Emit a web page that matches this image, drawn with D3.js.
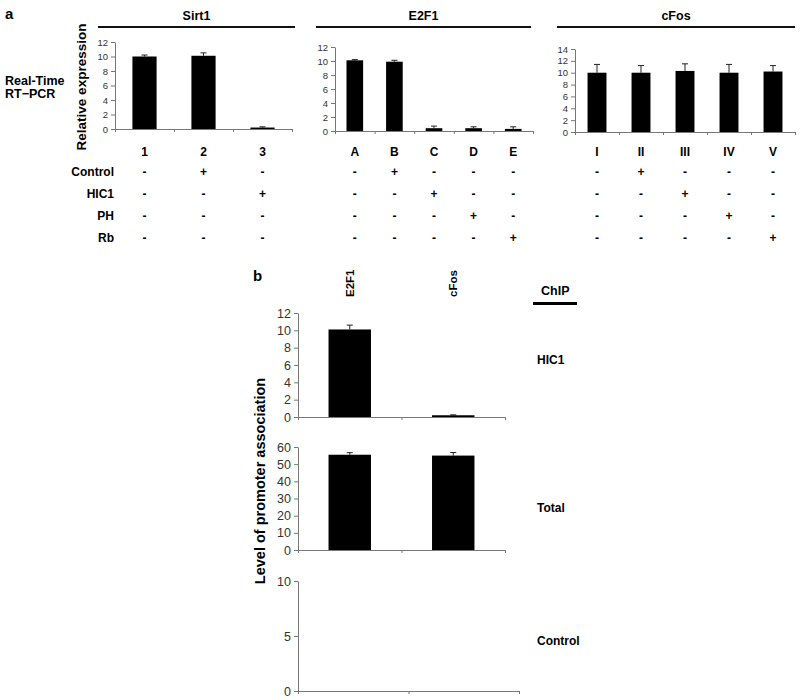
<!DOCTYPE html>
<html>
<head>
<meta charset="utf-8">
<script src="https://cdn.jsdelivr.net/npm/d3@7"></script>
<style>
  body { margin: 0; background: #fff; }
  svg { font-family: "Liberation Sans", Arial, sans-serif; }
  .tick text { fill: #333; }
  .domain, .tick line { stroke: #777; }
</style>
</head>
<body>
<svg id="chart" width="800" height="700"></svg>
<script>
// panel a: real-time RT-PCR
const sirt1Labels = ["1", "2", "3"];
const sirt1Values = [10.0, 10.1, 0.2];
const sirt1Errors = [0.2, 0.4, 0.1];
const sirt1Ticks = [0, 2, 4, 6, 8, 10, 12];

const e2f1Labels = ["A", "B", "C", "D", "E"];
const e2f1Values = [10.1, 9.9, 0.4, 0.4, 0.3];
const e2f1Errors = [0.1, 0.2, 0.3, 0.2, 0.3];
const e2f1Ticks = [0, 2, 4, 6, 8, 10, 12];

const cfosLabels = ["I", "II", "III", "IV", "V"];
const cfosValues = [10.0, 10.0, 10.3, 10.0, 10.2];
const cfosErrors = [1.4, 1.2, 1.2, 1.4, 1.0];
const cfosTicks = [0, 2, 4, 6, 8, 10, 12, 14];

const treatmentRows = ["Control", "HIC1", "PH", "Rb"];
const sirt1Signs = [["-", "+", "-"], ["-", "-", "+"], ["-", "-", "-"], ["-", "-", "-"]];
const e2f1Signs = [
  ["-", "+", "-", "-", "-"],
  ["-", "-", "+", "-", "-"],
  ["-", "-", "-", "+", "-"],
  ["-", "-", "-", "-", "+"],
];
const cfosSigns = [
  ["-", "+", "-", "-", "-"],
  ["-", "-", "+", "-", "-"],
  ["-", "-", "-", "+", "-"],
  ["-", "-", "-", "-", "+"],
];

// panel b: ChIP
const chipTargets = ["E2F1", "cFos"];
const chipHic1Values = [10.1, 0.2];
const chipHic1Errors = [0.5, 0.05];
const chipHic1Ticks = [0, 2, 4, 6, 8, 10, 12];
const chipTotalValues = [55.5, 55.0];
const chipTotalErrors = [1.2, 1.8];
const chipTotalTicks = [0, 10, 20, 30, 40, 50, 60];
const chipControlValues = [];
const chipControlErrors = [];
const chipControlTicks = [0, 5, 10];

const svg = d3.select("#chart");

// draws one small bar chart, returns the band scale
function barChart(opts) {
  const g = svg.append("g");
  const x = d3.scaleBand().domain(opts.labels).range([opts.x0, opts.x1]);
  const yMax = opts.ticks[opts.ticks.length - 1];
  const y = d3.scaleLinear().domain([0, yMax]).range([opts.y0, opts.yTop]);
  const xi = d3.scaleLinear().domain([0, opts.labels.length]).range([opts.x0, opts.x1]);

  g.append("g")
    .attr("transform", `translate(${opts.x0},0)`)
    .call(d3.axisLeft(y).tickValues(opts.ticks).tickSize(4).tickSizeOuter(0).tickPadding(3))
    .call((a) => a.selectAll("text").attr("font-size", opts.tickFont).attr("font-family", "Liberation Sans, Arial"));

  g.append("g")
    .attr("transform", `translate(0,${opts.y0})`)
    .call(d3.axisBottom(xi).tickValues(d3.range(opts.labels.length + 1)).tickFormat("").tickSize(3).tickSizeOuter(0));

  const bw = x.bandwidth() * opts.barRatio;
  const data = opts.values.map((v, i) => ({ label: opts.labels[i], v, e: opts.errors[i] }));

  g.selectAll("line.err")
    .data(data)
    .join("line")
    .attr("class", "err")
    .attr("x1", (d) => x(d.label) + x.bandwidth() / 2)
    .attr("x2", (d) => x(d.label) + x.bandwidth() / 2)
    .attr("y1", (d) => y(d.v))
    .attr("y2", (d) => y(d.v + d.e))
    .attr("stroke", "#222")
    .attr("stroke-width", 1);
  g.selectAll("line.cap")
    .data(data)
    .join("line")
    .attr("class", "cap")
    .attr("x1", (d) => x(d.label) + x.bandwidth() / 2 - 3)
    .attr("x2", (d) => x(d.label) + x.bandwidth() / 2 + 3)
    .attr("y1", (d) => y(d.v + d.e))
    .attr("y2", (d) => y(d.v + d.e))
    .attr("stroke", "#222")
    .attr("stroke-width", 1);

  g.selectAll("rect")
    .data(data)
    .join("rect")
    .attr("x", (d) => x(d.label) + (x.bandwidth() - bw) / 2)
    .attr("width", bw)
    .attr("y", (d) => y(d.v))
    .attr("height", (d) => opts.y0 - y(d.v))
    .attr("fill", "#000");
  return x;
}

function titled(text, xa, xb) {
  svg.append("text")
    .attr("x", (xa + xb) / 2).attr("y", 20)
    .attr("text-anchor", "middle")
    .attr("font-size", 12.5).attr("font-weight", "bold")
    .text(text);
  svg.append("line")
    .attr("x1", xa).attr("x2", xb).attr("y1", 27).attr("y2", 27)
    .attr("stroke", "#111").attr("stroke-width", 2);
}

function signTable(x, labels, signs) {
  const rowY = [152, 172, 194, 216, 238];
  svg.append("g").selectAll("text")
    .data(labels)
    .join("text")
    .attr("x", (d) => x(d) + x.bandwidth() / 2)
    .attr("y", rowY[0] + 4)
    .attr("text-anchor", "middle")
    .attr("font-size", 12).attr("font-weight", "bold")
    .text((d) => d);
  signs.forEach((row, r) => {
    svg.append("g").selectAll("text")
      .data(row)
      .join("text")
      .attr("x", (d, i) => x(labels[i]) + x.bandwidth() / 2)
      .attr("y", rowY[r + 1] + 4)
      .attr("text-anchor", "middle")
      .attr("font-size", 12).attr("font-weight", "bold")
      .text((d) => d);
  });
}

// ---- panel a ----
svg.append("text").attr("x", 5).attr("y", 19).attr("font-size", 15).attr("font-weight", "bold").text("a");
svg.append("text").attr("x", 5).attr("y", 85).attr("font-size", 12.5).attr("font-weight", "bold").text("Real-Time");
svg.append("text").attr("x", 5).attr("y", 98).attr("font-size", 12.5).attr("font-weight", "bold").text("RT\u2212PCR");
svg.append("text")
  .attr("transform", "translate(86,87) rotate(-90)")
  .attr("text-anchor", "middle")
  .attr("font-size", 13.5).attr("font-weight", "bold")
  .text("Relative expression");

titled("Sirt1", 98, 295);
titled("E2F1", 316, 531);
titled("cFos", 557, 795);

const xs = barChart({ labels: sirt1Labels, values: sirt1Values, errors: sirt1Errors, ticks: sirt1Ticks,
  x0: 115, x1: 292, y0: 129, yTop: 42, barRatio: 0.41, tickFont: 9.5 });
const xe = barChart({ labels: e2f1Labels, values: e2f1Values, errors: e2f1Errors, ticks: e2f1Ticks,
  x0: 335, x1: 533, y0: 131, yTop: 47, barRatio: 0.42, tickFont: 9.5 });
const xc = barChart({ labels: cfosLabels, values: cfosValues, errors: cfosErrors, ticks: cfosTicks,
  x0: 575, x1: 795, y0: 132, yTop: 49, barRatio: 0.43, tickFont: 9.5 });

svg.append("g").selectAll("text")
  .data(treatmentRows)
  .join("text")
  .attr("x", 114)
  .attr("y", (d, i) => [172, 194, 216, 238][i] + 4)
  .attr("text-anchor", "end")
  .attr("font-size", 12).attr("font-weight", "bold")
  .text((d) => d);
signTable(xs, sirt1Labels, sirt1Signs);
signTable(xe, e2f1Labels, e2f1Signs);
signTable(xc, cfosLabels, cfosSigns);

// ---- panel b ----
svg.append("text").attr("x", 253).attr("y", 281).attr("font-size", 15).attr("font-weight", "bold").text("b");
svg.append("text").attr("x", 541).attr("y", 295).attr("font-size", 12.5).attr("font-weight", "bold").text("ChIP");
svg.append("line").attr("x1", 533).attr("x2", 577).attr("y1", 303.5).attr("y2", 303.5)
  .attr("stroke", "#000").attr("stroke-width", 3);

const xb = barChart({ labels: chipTargets, values: chipHic1Values, errors: chipHic1Errors, ticks: chipHic1Ticks,
  x0: 298, x1: 505, y0: 417, yTop: 313, barRatio: 0.41, tickFont: 12.5 });
barChart({ labels: chipTargets, values: chipTotalValues, errors: chipTotalErrors, ticks: chipTotalTicks,
  x0: 298, x1: 505, y0: 550, yTop: 447, barRatio: 0.41, tickFont: 12.5 });
barChart({ labels: chipTargets, values: chipControlValues, errors: chipControlErrors, ticks: chipControlTicks,
  x0: 298, x1: 519, y0: 691, yTop: 581, barRatio: 0.41, tickFont: 12.5 });

svg.append("g").selectAll("text")
  .data(chipTargets)
  .join("text")
  .attr("transform", (d) => `translate(${xb(d) + xb.bandwidth() / 2 + 4},297) rotate(-90)`)
  .attr("font-size", 11.5).attr("font-weight", "bold")
  .text((d) => d);

svg.append("text")
  .attr("transform", "translate(265,481) rotate(-90)")
  .attr("text-anchor", "middle")
  .attr("font-size", 14.5).attr("font-weight", "bold")
  .text("Level of promoter association");

svg.append("g").selectAll("text")
  .data(["HIC1", "Total", "Control"])
  .join("text")
  .attr("x", 537)
  .attr("y", (d, i) => [364, 512, 645][i])
  .attr("font-size", 12).attr("font-weight", "bold")
  .text((d) => d);
</script>
</body>
</html>
